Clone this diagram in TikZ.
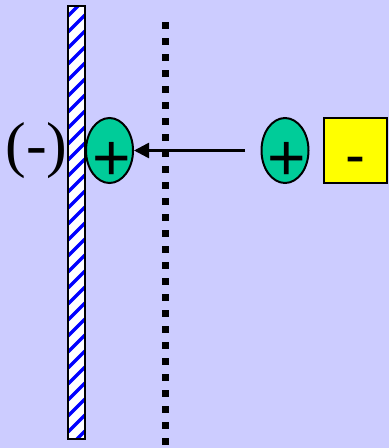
\documentclass[tikz,border=0pt]{standalone}
\usepackage{fontspec}
\setmainfont{Liberation Serif}
\newfontfamily\ionfont{Liberation Sans}
\usetikzlibrary{shapes.geometric, arrows.meta}
\definecolor{bgblue}{RGB}{204,204,255}
\definecolor{iongreen}{RGB}{0,204,153}
\definecolor{boxyellow}{RGB}{255,255,0}

\begin{document}
\begin{tikzpicture}[x=1pt, y=-1pt,
    ion/.style={ellipse, draw, line width=2pt, fill=iongreen,
        minimum width=47pt, minimum height=65pt, inner sep=0pt},
    ionsign/.style={font=\ionfont\fontsize{66}{66}\selectfont, inner sep=0pt}]

    % 1. Background and bounding box
    \fill[bgblue] (0,0) rectangle (389,448);
    \useasboundingbox (0,0) rectangle (389,448);

    % 2. The striped electrode on the left
    \begin{scope}
        \clip (68,6) rectangle (85,439);
        \fill[white] (68,6) rectangle (85,439);
        \foreach \s in {0,16,...,480}
            \draw[blue, line width=3.5pt] (68,\s) -- ++(17,-17);
    \end{scope}
    \draw[line width=2.5pt] (68,6) rectangle (85,439);

    % 3. The dotted boundary
    \draw[line width=7pt, dash pattern=on 7pt off 9pt] (165,22) -- (165,448);

    % 4. Ions, the counter charge and the charge of the electrode
    \node[ion, label={[ionsign, xshift=2pt, yshift=-11pt]center:+}] (Pin) at (109.5,150.5) {};
    \node[ion, label={[ionsign, xshift=2pt, yshift=-11pt]center:+}] (Pout) at (285,150.5) {};
    \node[draw, line width=2.5pt, fill=boxyellow, minimum width=63pt, minimum height=65pt,
        font=\ionfont\fontsize{60}{60}\selectfont, text height=50pt, text depth=0pt] (Neg) at (355.5,150.5) {-};
    \node[font=\fontsize{62}{62}\selectfont, inner sep=0pt] (Q) at (36.5,150.5) {(-)};

    % 5. The ion moves towards the electrode
    \coordinate (S) at (245,150.5);
    \draw[line width=2.5pt, -{Triangle[length=15pt, width=15pt]}] (S) -- (Pin);

\end{tikzpicture}
\end{document}
